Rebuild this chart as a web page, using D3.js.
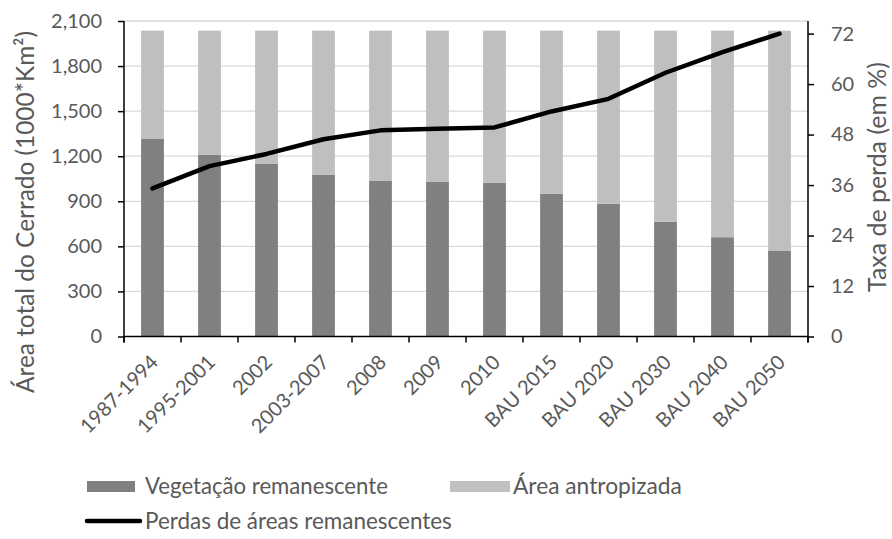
<!DOCTYPE html>
<html>
<head>
<meta charset="utf-8">
<script src="https://cdn.jsdelivr.net/npm/d3@7"></script>
<style>
  html, body { margin: 0; padding: 0; background: #fff; }
  svg { display: block; }
  text { font-family: Lato, "Open Sans", sans-serif; fill: #595959; }
</style>
</head>
<body>
<svg id="chart" width="892" height="539"></svg>
<script>
const categories = ["1987-1994", "1995-2001", "2002", "2003-2007", "2008", "2009", "2010",
  "BAU 2015", "BAU 2020", "BAU 2030", "BAU 2040", "BAU 2050"];
const vegetacao = [1318, 1209, 1151, 1078, 1035, 1029, 1024, 950, 884, 763, 661, 569];
const total = [2036, 2036, 2036, 2036, 2036, 2036, 2036, 2036, 2036, 2036, 2036, 2036];
const perdas = [35.2, 40.5, 43.4, 46.9, 49.0, 49.4, 49.7, 53.5, 56.5, 62.7, 67.6, 72.0];
const leftTicks = [0, 300, 600, 900, 1200, 1500, 1800, 2100];
const rightTicks = [0, 12, 24, 36, 48, 60, 72];

const svg = d3.select("#chart");
const L = 124, R = 808, T = 21, B = 336.5;
const FS = 20;

const x = d3.scaleBand().domain(categories).range([L, R]).paddingInner(0.6).paddingOuter(0.3);
const yL = d3.scaleLinear().domain([0, 2100]).range([B, T]);
const yR = d3.scaleLinear().domain([0, 75]).range([B, T]);
const fmt = d3.format(",");

function fit(sel, target) {
  const w = sel.node().getComputedTextLength();
  const fs = parseFloat(sel.attr("font-size"));
  sel.attr("font-size", fs * target / w);
  return sel;
}

// gridlines
svg.append("g").selectAll("line").data(leftTicks.filter(d => d > 0)).join("line")
  .attr("x1", L).attr("x2", R).attr("y1", d => yL(d)).attr("y2", d => yL(d))
  .attr("stroke", "#d9d9d9").attr("stroke-width", 1.3);

// bars
const anthro = total.map((t, i) => t - vegetacao[i]);
svg.append("g").selectAll("rect").data(categories).join("rect")
  .attr("x", d => x(d)).attr("width", x.bandwidth())
  .attr("y", (d, i) => yL(vegetacao[i])).attr("height", (d, i) => yL(0) - yL(vegetacao[i]))
  .attr("fill", "#808080");
svg.append("g").selectAll("rect").data(categories).join("rect")
  .attr("x", d => x(d)).attr("width", x.bandwidth())
  .attr("y", (d, i) => yL(vegetacao[i] + anthro[i])).attr("height", (d, i) => yL(vegetacao[i]) - yL(vegetacao[i] + anthro[i]))
  .attr("fill", "#bfbfbf");

// left axis
const gl = svg.append("g").attr("transform", `translate(${L},0)`)
  .call(d3.axisLeft(yL).tickValues(leftTicks).tickFormat(fmt).tickSize(6).tickPadding(16));
gl.select(".domain").remove();
gl.selectAll(".tick line").attr("stroke", "#000").attr("stroke-width", 1.5);
gl.selectAll(".tick text").attr("font-size", FS).attr("font-family", "Lato").attr("fill", "#595959");
svg.append("line").attr("x1", L).attr("x2", L).attr("y1", T).attr("y2", B + 6).attr("stroke", "#000").attr("stroke-width", 1.5);

// right axis
const gr = svg.append("g").attr("transform", `translate(${R},0)`)
  .call(d3.axisRight(yR).tickValues(rightTicks).tickSize(6).tickPadding(17));
gr.select(".domain").remove();
gr.selectAll(".tick line").attr("stroke", "#000").attr("stroke-width", 1.5);
gr.selectAll(".tick text").attr("font-size", FS).attr("font-family", "Lato").attr("fill", "#595959");
svg.append("line").attr("x1", R).attr("x2", R).attr("y1", T).attr("y2", B + 6).attr("stroke", "#000").attr("stroke-width", 1.5);

// x axis
svg.append("line").attr("x1", L).attr("x2", R).attr("y1", B).attr("y2", B).attr("stroke", "#000").attr("stroke-width", 1.5);
const bounds = d3.range(categories.length + 1).map(i => L + i * x.step());
svg.append("g").selectAll("line").data(bounds).join("line")
  .attr("x1", d => d).attr("x2", d => d).attr("y1", B).attr("y2", B + 6)
  .attr("stroke", "#000").attr("stroke-width", 1.5);
svg.append("g").selectAll("text").data(categories).join("text")
  .attr("transform", d => `translate(${x(d) + x.bandwidth() / 2 + 7},${B + 27}) rotate(-45)`)
  .attr("text-anchor", "end").attr("font-size", FS).text(d => d);

// line
const line = d3.line().x((d, i) => x(categories[i]) + x.bandwidth() / 2).y(d => yR(d));
svg.append("path").datum(perdas).attr("d", line).attr("fill", "none")
  .attr("stroke", "#000").attr("stroke-width", 4.5).attr("stroke-linejoin", "round").attr("stroke-linecap", "round");

// axis titles
fit(svg.append("text").attr("transform", `translate(34,212) rotate(-90)`).attr("text-anchor", "middle")
  .attr("font-size", 21).text("Área total do Cerrado (1000*Km²)"), 362);
fit(svg.append("text").attr("transform", `translate(886,177) rotate(-90)`).attr("text-anchor", "middle")
  .attr("font-size", 21).text("Taxa de perda (em %)"), 230);

// legend
const lg = svg.append("g");
lg.append("rect").attr("x", 87).attr("y", 481).attr("width", 48).attr("height", 11).attr("fill", "#808080");
fit(lg.append("text").attr("x", 145).attr("y", 494).attr("font-size", 22).text("Vegetação remanescente"), 243);
lg.append("rect").attr("x", 450).attr("y", 481).attr("width", 60).attr("height", 11).attr("fill", "#bfbfbf");
fit(lg.append("text").attr("x", 513).attr("y", 494).attr("font-size", 22).text("Área antropizada"), 169);
lg.append("line").attr("x1", 87).attr("x2", 140).attr("y1", 521).attr("y2", 521)
  .attr("stroke", "#000").attr("stroke-width", 4.5).attr("stroke-linecap", "round");
fit(lg.append("text").attr("x", 145).attr("y", 529).attr("font-size", 22).text("Perdas de áreas remanescentes"), 307);
</script>
</body>
</html>
